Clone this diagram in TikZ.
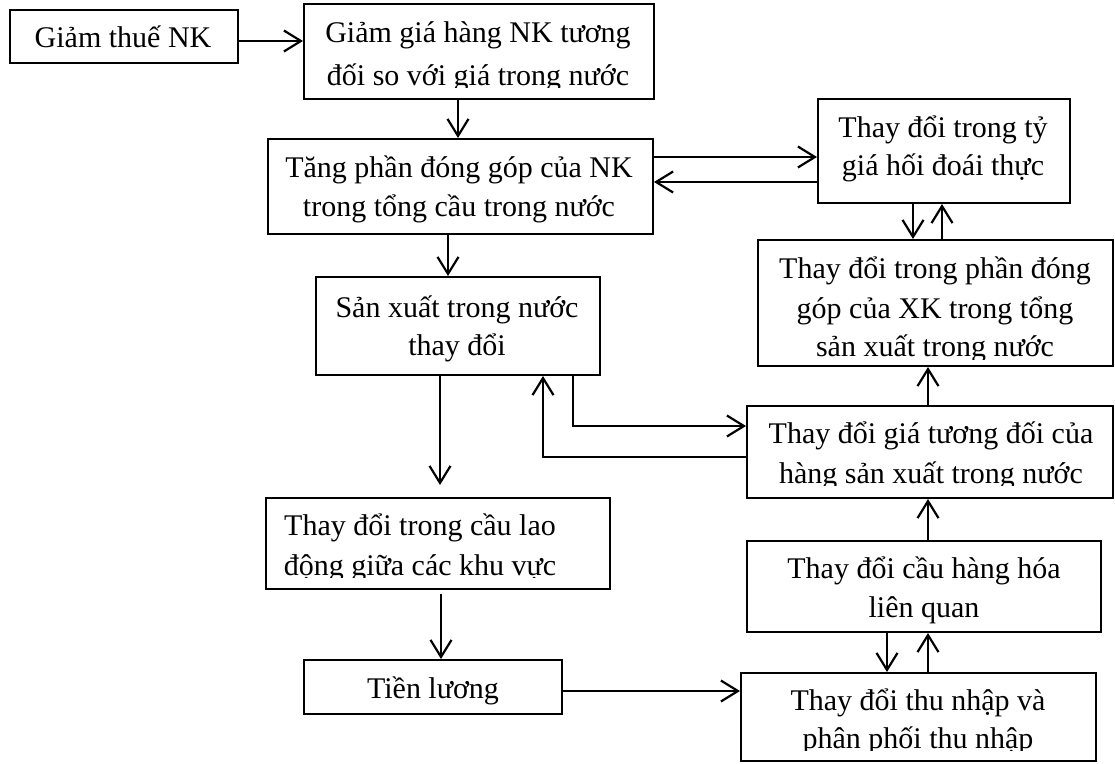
\documentclass[tikz,border=0pt]{standalone}
\usepackage{fontspec}
\setmainfont{Liberation Serif}
\usetikzlibrary{arrows.meta}
\begin{document}
\begin{tikzpicture}[x=1pt,y=-1pt,
  box/.style={draw, line width=2pt, inner sep=0pt, anchor=north west},
  txt/.style={font=\fontsize{30pt}{40pt}\selectfont, inner sep=0pt, anchor=base},
  arr/.style={line width=2.2pt, -{Straight Barb[length=17pt,width=21pt]}}]
\useasboundingbox (0,0) rectangle (1115,763);

% boxes
\node[box, minimum width=228pt, minimum height=53pt]  (b1)  at (9,9) {};
\node[box, minimum width=350pt, minimum height=95pt]  (b2)  at (303,3) {};
\node[box, minimum width=385pt, minimum height=95pt]  (b3)  at (267,138) {};
\node[box, minimum width=252pt, minimum height=104pt] (b4)  at (817,98) {};
\node[box, minimum width=355pt, minimum height=126pt] (b5)  at (757,239) {};
\node[box, minimum width=284pt, minimum height=98pt]  (b6)  at (315,276) {};
\node[box, minimum width=366pt, minimum height=92pt]  (b7)  at (746,405) {};
\node[box, minimum width=344pt, minimum height=91pt]  (b8)  at (265,497) {};
\node[box, minimum width=354pt, minimum height=91pt]  (b9)  at (746,540) {};
\node[box, minimum width=258pt, minimum height=54pt]  (b10) at (303,659) {};
\node[box, minimum width=355pt, minimum height=88pt]  (b11) at (740,672) {};

% texts
\node[txt] (t1)  at (123,47) {Giảm thuế NK};
\node[txt] (t2a) at (478,42) {Giảm giá hàng NK tương};
\begin{scope}
  \clip (304,4) rectangle (652,87);
  \node[txt] (t2b) at (478,85) {đối so với giá trong nước};
\end{scope}
\node[txt] (t3a) at (459,177) {Tăng phần đóng góp của NK};
\node[txt] (t3b) at (459,216) {trong tổng cầu trong nước};
\node[txt] (t4a) at (943,137) {Thay đổi trong tỷ};
\node[txt] (t4b) at (943,175) {giá hối đoái thực};
\node[txt] (t5a) at (935,278) {Thay đổi trong phần đóng};
\node[txt] (t5b) at (935,318) {góp của XK trong tổng};
\begin{scope}
  \clip (758,240) rectangle (1111,359);
  \node[txt] (t5c) at (935,356) {sản xuất trong nước};
\end{scope}
\node[txt] (t6a) at (457,317) {Sản xuất trong nước};
\node[txt] (t6b) at (457,355) {thay đổi};
\node[txt] (t7a) at (931,443) {Thay đổi giá tương đối của};
\begin{scope}
  \clip (747,406) rectangle (1111,485);
  \node[txt] (t7b) at (931,483) {hàng sản xuất trong nước};
\end{scope}
\node[txt] (t8a) at (420,535) {Thay đổi trong cầu lao};
\begin{scope}
  \clip (266,498) rectangle (608,577);
  \node[txt] (t8b) at (420,575) {động giữa các khu vực};
\end{scope}
\node[txt] (t9a) at (924,578) {Thay đổi cầu hàng hóa};
\node[txt] (t9b) at (924,617) {liên quan};
\node[txt] (t10) at (433,698) {Tiền lương};
\node[txt] (t11a) at (918,710) {Thay đổi thu nhập và};
\begin{scope}
  \clip (741,673) rectangle (1094,750);
  \node[txt] (t11b) at (918,748) {phân phối thu nhập};
\end{scope}

% connector guide points
\coordinate (k1)  at (0,41);
\coordinate (k2)  at (458,0);
\coordinate (k3)  at (0,157);
\coordinate (k4)  at (0,182);
\coordinate (k5)  at (913,0);
\coordinate (k6)  at (942,0);
\coordinate (k7)  at (448,0);
\coordinate (k8)  at (440,0);
\coordinate (k9)  at (573,426);
\coordinate (k10) at (543,457);
\coordinate (k11) at (928,0);
\coordinate (k12) at (887,0);
\coordinate (k13) at (441,0);
\coordinate (k14) at (0,691);

% connectors
\draw[arr] (b1.east |- k1) -- (b2.west |- k1);
\draw[arr] (b2.south -| k2) -- (b3.north -| k2);
\draw[arr] (b3.east |- k3) -- (b4.west |- k3);
\draw[arr] (b4.west |- k4) -- (b3.east |- k4);
\draw[arr] (b4.south -| k5) -- (b5.north -| k5);
\draw[arr] (b5.north -| k6) -- (b4.south -| k6);
\draw[arr] (b3.south -| k7) -- (b6.north -| k7);
\draw[arr, shorten >=12pt] (b6.south -| k8) -- (b8.north -| k8);
\draw[arr] (b6.south -| k9) |- (b7.west |- k9);
\draw[arr] (b7.west |- k10) -| (b6.south -| k10);
\draw[arr] (b7.north -| k11) -- (b5.south -| k11);
\draw[arr] (b9.north -| k11) -- (b7.south -| k11);
\draw[arr] (b9.south -| k12) -- (b11.north -| k12);
\draw[arr] (b11.north -| k11) -- (b9.south -| k11);
\draw[arr, shorten <=4pt] (b8.south -| k13) -- (b10.north -| k13);
\draw[arr] (b10.east |- k14) -- (b11.west |- k14);
\end{tikzpicture}
\end{document}
